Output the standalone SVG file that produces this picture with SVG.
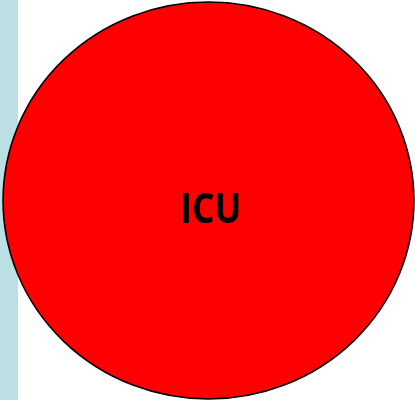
<svg xmlns="http://www.w3.org/2000/svg" width="415" height="400" viewBox="0 0 415 400">
<style>
.lbl{font-family:"Open Sans","Liberation Sans",Arial,sans-serif;font-weight:bold;font-size:41px;fill:#000}
</style>
<rect x="0" y="0" width="415" height="400" fill="#fff"/>
<rect x="0" y="0" width="18" height="400" fill="#BBDFE3"/>
<g id="icu">
<ellipse cx="208.5" cy="200.5" rx="205.5" ry="198.5" fill="#FF0000" stroke="#000" stroke-width="1.5"/>
<text class="lbl" x="210.5" y="223" text-anchor="middle" textLength="61" lengthAdjust="spacingAndGlyphs">ICU</text>
</g>
<g id="connectors"/>
</svg>
